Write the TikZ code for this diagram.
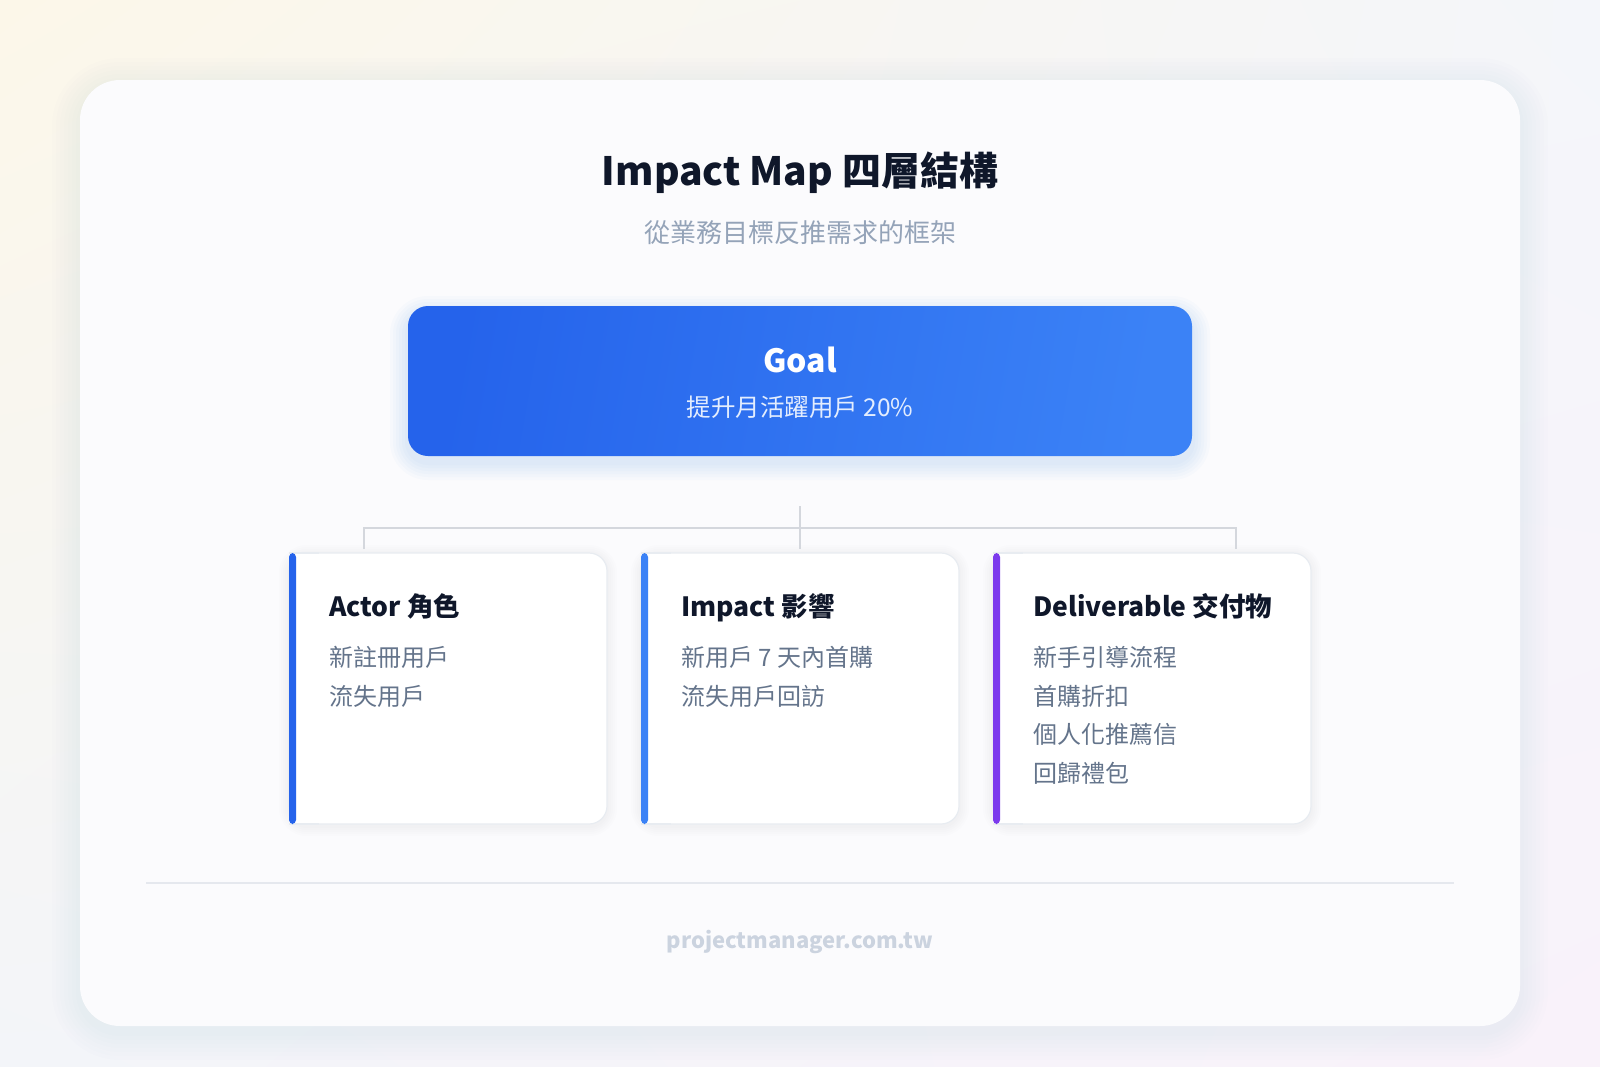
\documentclass[tikz,border=0pt]{standalone}
\usepackage{fontspec}
\setmainfont{Noto Sans CJK TC}
\usetikzlibrary{positioning, calc, shadings}

\definecolor{ink}{HTML}{0F172A}
\definecolor{mutedink}{HTML}{94A3B8}
\definecolor{slate}{HTML}{64748B}
\definecolor{goalL}{HTML}{2563EB}
\definecolor{goalR}{HTML}{3B82F6}
\definecolor{goalsub}{HTML}{E3EDFE}
\definecolor{cardline}{HTML}{E8ECF1}
\definecolor{linkgray}{HTML}{D4D7DD}
\definecolor{sepgray}{HTML}{E5E8EE}
\definecolor{footgray}{HTML}{CBD3DF}
\definecolor{barA}{HTML}{2563EB}
\definecolor{barB}{HTML}{3B82F6}
\definecolor{barC}{HTML}{7C3AED}
\definecolor{panel}{HTML}{FBFBFD}
\definecolor{bgTL}{HTML}{FCF7E9}
\definecolor{bgTR}{HTML}{F4F6FA}
\definecolor{bgBL}{HTML}{F3F5F9}
\definecolor{bgBR}{HTML}{F9F2FA}
\definecolor{shadowc}{HTML}{64748B}

\tikzset{
  card/.style={draw=cardline, line width=1.2pt, fill=white, rounded corners=18pt,
    minimum width=318pt, minimum height=271pt, inner sep=0pt, outer sep=0pt},
  cardhead/.style={anchor=west, text=ink, inner sep=0pt, text height=22pt, text depth=6pt,
    font=\fontsize{26.5}{30}\selectfont\bfseries},
  carditem/.style={anchor=west, text=slate, inner sep=0pt, text height=20pt, text depth=5pt,
    font=\fontsize{24}{28}\selectfont},
  link/.style={draw=linkgray, line width=2pt},
}

\begin{document}
\begin{tikzpicture}[x=1pt, y=-1pt]
    \useasboundingbox (0,0) rectangle (1600,1066);
    % page background
    \shade[upper left=bgTL, upper right=bgTR, lower left=bgBL, lower right=bgBR]
        (0,0) rectangle (1600,1066);
    % panel with soft shadow
    \foreach \k in {4,8,...,28}
        \fill[shadowc, opacity=0.008, rounded corners=40+\k]
            (80-\k,86-\k) rectangle (1520+\k,1032+\k);
    \fill[panel, rounded corners=40] (80,80) rectangle (1520,1026);

    % heading
    \node[text=ink, font=\fontsize{39}{44}\selectfont\bfseries] (title) at (800,173)
        {Impact Map 四層結構};
    \node[text=mutedink, font=\fontsize{26}{30}\selectfont] (subtitle) at (800,233)
        {從業務目標反推需求的框架};

    % goal box
    \foreach \k in {3,6,...,18}
        \fill[goalR, opacity=0.025, rounded corners=20+\k]
            (408-\k,314-\k) rectangle (1192+\k,462+\k);
    \node[shading=axis, left color=goalL, right color=goalR, shading angle=80,
        rounded corners=20pt, minimum width=784pt, minimum height=150pt,
        inner sep=0pt, outer sep=0pt] (goal) at (800,381) {};
    \node[text=white, font=\fontsize{32}{36}\selectfont\bfseries] (goal-title)
        at ($(goal.north)+(0,54)$) {Goal};
    \node[text=goalsub, font=\fontsize{24.5}{28}\selectfont] (goal-sub)
        at ($(goal.north)+(0,101)$) {提升月活躍用戶 20\%};

    % the three cards
    \foreach \name/\x in {actor/448, impact/800, deliv/1152} {
        \foreach \k in {2,4,...,10}
            \fill[shadowc, opacity=0.01, rounded corners=18+\k]
                (\x-159-\k,555-\k) rectangle (\x+159+\k,826+\k);
        \node[card] (\name) at (\x,688.5) {};
    }
    \foreach \name/\col in {actor/barA, impact/barB, deliv/barC} {
        \fill[white] (\name.north west) rectangle ($(\name.south west)+(30,0)$);
        \draw[cardline, line width=1.2pt] (\name.north west) -- ++(30,0);
        \draw[cardline, line width=1.2pt] (\name.south west) -- ++(30,0);
        \fill[\col, rounded corners=4pt] (\name.north west) rectangle ($(\name.south west)+(7,0)$);
    }

    \node[cardhead] (actor-head) at ($(actor.north west)+(40,55)$) {Actor 角色};
    \foreach \t [count=\i] in {新註冊用戶, 流失用戶}
        \node[carditem] (actor-\i) at ($(actor.north west)+(40,{106+38.5*(\i-1)})$) {\t};

    \node[cardhead] (impact-head) at ($(impact.north west)+(40,55)$) {Impact 影響};
    \foreach \t [count=\i] in {新用戶 7 天內首購, 流失用戶回訪}
        \node[carditem] (impact-\i) at ($(impact.north west)+(40,{106+38.5*(\i-1)})$) {\t};

    \node[cardhead] (deliv-head) at ($(deliv.north west)+(40,55)$) {Deliverable 交付物};
    \foreach \t [count=\i] in {新手引導流程, 首購折扣, 個人化推薦信, 回歸禮包}
        \node[carditem] (deliv-\i) at ($(deliv.north west)+(40,{106+38.5*(\i-1)})$) {\t};

    % connectors
    \coordinate (stem-top) at ($(goal.south)+(0,50)$);
    \coordinate (busL) at ($(actor.north west)+(75,-25)$);
    \coordinate (busR) at ($(deliv.north east)+(-75,-25)$);
    \draw[link] (stem-top) -- ($(impact.north)+(0,-4)$);
    \draw[link] ($(actor.north west)+(75,-4)$) -- (busL) -- (busR)
        -- ($(deliv.north east)+(-75,-4)$);

    % footer
    \draw[sepgray, line width=1.5pt] (146,883) -- (1454,883);
    \node[text=footgray, font=\fontsize{22}{26}\selectfont\bfseries] (footer)
        at (800,942) {projectmanager.com.tw};
\end{tikzpicture}
\end{document}
